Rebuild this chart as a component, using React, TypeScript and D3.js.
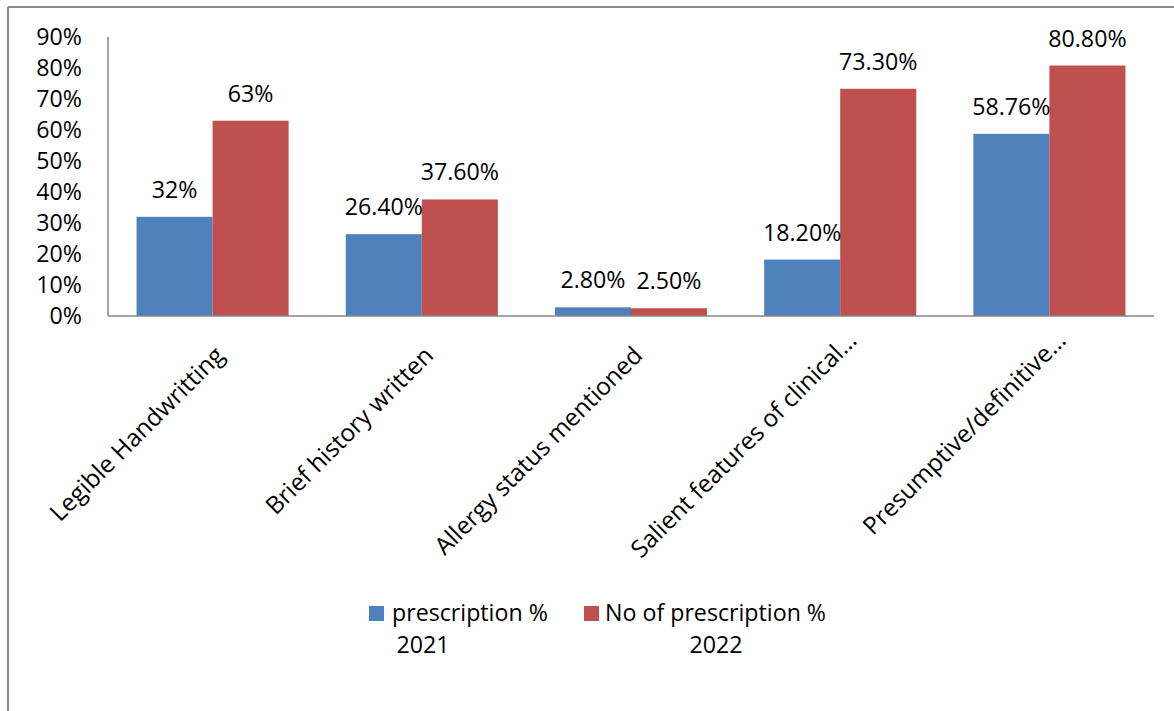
import React from "react";
import * as d3 from "d3";

const categories = [
  "Legible Handwritting",
  "Brief history written",
  "Allergy status mentioned",
  "Salient features of clinical…",
  "Presumptive/definitive…",
];
const values2021 = [32, 26.4, 2.8, 18.2, 58.76];
const values2022 = [63, 37.6, 2.5, 73.3, 80.8];
const labels2021 = ["32%", "26.40%", "2.80%", "18.20%", "58.76%"];
const labels2022 = ["63%", "37.60%", "2.50%", "73.30%", "80.80%"];
const yTicks = [0, 10, 20, 30, 40, 50, 60, 70, 80, 90];
const seriesNames = [["prescription %", "2021"], ["No of prescription %", "2022"]];

const W = 1174;
const H = 711;
const BLUE = "#4F81BD";
const RED = "#C0504D";
const FONT = "'Open Sans', 'DejaVu Sans', sans-serif";
const FS = 23.2;
const CAT_FS = 24.3;

export default function App() {
  const left = 108;
  const right = 1154;
  const top = 37;
  const bottom = 316;
  const x0 = d3.scaleBand<string>().domain(categories).range([left, right]).paddingInner(0.273).paddingOuter(0.1365);
  const x1 = d3.scaleBand<string>().domain(["a", "b"]).range([0, x0.bandwidth()]);
  const y = d3.scaleLinear().domain([0, 90]).range([bottom, top]);
  const groupW = (right - left) / categories.length;

  return (
    <svg width={W} height={H} style={{ position: "absolute", left: 0, top: 0, background: "#fff" }} fontFamily={FONT}>
      <rect x={0} y={0} width={W} height={H} fill="#fff" />
      {/* outer frame */}
      <line x1={8} y1={7} x2={W} y2={7} stroke="#8a8a8a" strokeWidth={2} />
      <line x1={8} y1={7} x2={8} y2={H} stroke="#8a8a8a" strokeWidth={2} />
      {/* y tick labels */}
      {yTicks.map((t) => (
        <text key={t} x={82} y={y(t)} dy="0.36em" textAnchor="end" fontSize={FS} fill="#000">
          {t}%
        </text>
      ))}
      {/* bars */}
      {categories.map((c, i) => {
        const gx = x0(c)!;
        return (
          <g key={c}>
            <rect x={gx + x1("a")!} y={y(values2021[i])} width={x1.bandwidth()} height={bottom - y(values2021[i])} fill={BLUE} />
            <rect x={gx + x1("b")!} y={y(values2022[i])} width={x1.bandwidth()} height={bottom - y(values2022[i])} fill={RED} />
            <text x={gx + x1("a")! + x1.bandwidth() / 2} y={y(values2021[i]) - 19} textAnchor="middle" fontSize={FS} fill="#000">
              {labels2021[i]}
            </text>
            <text x={gx + x1("b")! + x1.bandwidth() / 2} y={y(values2022[i]) - 19} textAnchor="middle" fontSize={FS} fill="#000">
              {labels2022[i]}
            </text>
          </g>
        );
      })}
      {/* axes */}
      <line x1={left} y1={top} x2={left} y2={bottom} stroke="#868686" strokeWidth={1.5} />
      <line x1={left} y1={bottom} x2={right} y2={bottom} stroke="#868686" strokeWidth={1.5} />
      {/* category labels */}
      {categories.map((c, i) => {
        const truncated = c.endsWith("…");
        const cx = left + groupW * (i + 0.5) + (truncated ? 18 : 13);
        const cy = truncated ? 342 : 357;
        return (
          <text key={c} transform={`translate(${cx},${cy}) rotate(-45)`} textAnchor="end" fontSize={CAT_FS} fill="#000">
            {c}
          </text>
        );
      })}
      {/* legend */}
      <rect x={369} y={606} width={15} height={15} fill={BLUE} />
      <text x={392} y={621} fontSize={FS} fill="#000">{seriesNames[0][0]}</text>
      <text x={423} y={653} textAnchor="middle" fontSize={FS} fill="#000">{seriesNames[0][1]}</text>
      <rect x={584} y={606} width={15} height={15} fill={RED} />
      <text x={605} y={621} fontSize={FS} fill="#000">{seriesNames[1][0]}</text>
      <text x={716} y={653} textAnchor="middle" fontSize={FS} fill="#000">{seriesNames[1][1]}</text>
    </svg>
  );
}
